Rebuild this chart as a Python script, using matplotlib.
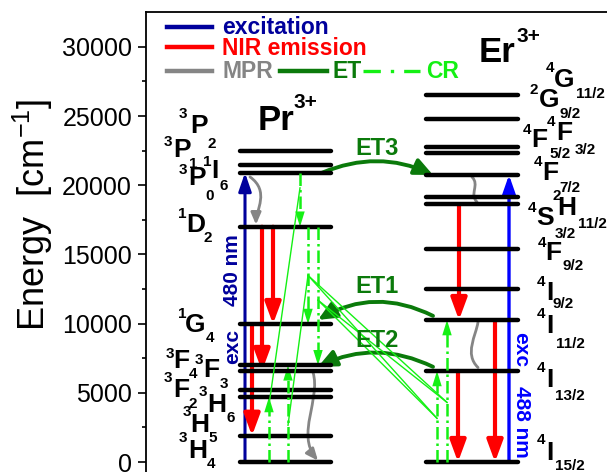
import numpy as np
import matplotlib
matplotlib.use('Agg')
from matplotlib import pyplot as plt
from matplotlib.patches import FancyArrowPatch
from matplotlib.path import Path
from matplotlib.lines import Line2D

plt.rcParams['font.family'] = 'Liberation Sans'
plt.rcParams['mathtext.fontset'] = 'custom'
plt.rcParams['mathtext.rm'] = 'Liberation Sans'
plt.rcParams['mathtext.it'] = 'Liberation Sans:italic'
plt.rcParams['mathtext.bf'] = 'Liberation Sans:bold'

# energy levels (cm^-1)
pr_names = ['3H4', '3H5', '3H6', '3F2', '3F3', '3F4', '1G4', '1D2', '3P0', '3P1', '3P2']
pr_energy = [0, 1900, 4700, 5200, 6580, 6990, 9970, 17000, 20900, 21450, 22500]

er_names = ['4I15/2', '4I13/2', '4I11/2', '4I9/2', '4F9/2', '4S3/2', '2H11/2',
            '4F7/2', '4F5/2', '4F3/2', '2G9/2', '4G11/2']
er_energy = [0, 6580, 10260, 12480, 15390, 18640, 19170, 20740, 22300, 22780, 24750, 26500]

PR = dict(zip(pr_names, pr_energy))
ER = dict(zip(er_names, er_energy))

# transitions (from, to)
pr_exc = [('3H4', '3P0')]
pr_nir = [('1D2', '3F3'), ('1D2', '1G4'), ('1G4', '3H5')]
pr_cr_down = [('3P0', '1D2'), ('1D2', '1G4'), ('1D2', '3F4')]
pr_cr_up = [('3H4', '3H6'), ('3H4', '3F4')]
er_exc = [('4I15/2', '4F7/2')]
er_nir = [('4S3/2', '4I11/2'), ('4I13/2', '4I15/2'), ('4I11/2', '4I15/2')]
er_cr_up = [('4I15/2', '4I13/2'), ('4I15/2', '4I11/2')]
et_names = ['ET1', 'ET2', 'ET3']
et_from = [('er', '4I11/2'), ('er', '4I13/2'), ('pr', '3P0')]
et_to = [('pr', '1G4'), ('pr', '3F3'), ('er', '4F7/2')]

yticks = [0, 5000, 10000, 15000, 20000, 25000, 30000]

NAVY = '#00009c'
BLUE = '#0000ff'
RED = '#ff0000'
GRAY = '#858585'
DGREEN = '#0b7a0b'
LGREEN = '#14f014'

W, H = 607, 472
fig = plt.figure(figsize=(W / 100, H / 100), dpi=100)
ax = fig.add_axes([146 / W, (H - 482.8) / H, (620 - 146) / W, 470.6 / H])
ax.set_xlim(146, 620)
ax.set_ylim(-1500, 32500)

def fxy(x, y):
    return x / W, 1 - y / H

cm_per_px = 34000 / 470.6
cm_per_pt = cm_per_px * 100 / 72

# axis styling
for s in ['bottom', 'right']:
    ax.spines[s].set_visible(False)
for s in ['left', 'top']:
    ax.spines[s].set_linewidth(1.3)
ax.set_xticks([])
ax.set_yticks(yticks)
ax.set_yticks(np.arange(2500, 32500, 5000), minor=True)
ax.tick_params(axis='y', which='major', length=6, width=1.2, labelsize=18, pad=4)
ax.tick_params(axis='y', which='minor', length=3, width=1.2)
fig.text(*fxy(33, 215), 'Energy  [cm$^{-1}$]', fontsize=26, rotation=90,
         ha='center', va='center')

# level lines
for e in pr_energy:
    ax.plot([240, 331], [e, e], color='k', lw=3.2, solid_capstyle='round')
for e in er_energy:
    ax.plot([426, 518], [e, e], color='k', lw=3.2, solid_capstyle='round')


def arrow(x, e0, e1, color, lw, hl, hw, dashed=False):
    style = f'-|>,head_length={hl},head_width={hw}'
    if dashed:
        sgn = np.sign(e1 - e0)
        ax.plot([x, x], [e0, e1 - sgn * hl * cm_per_pt * 0.6], color=color, lw=lw,
                ls=(0, (5, 1.6, 1, 1.6)))
        ax.add_patch(FancyArrowPatch((x, e0), (x, e1), arrowstyle=style, mutation_scale=1,
                                     lw=0, color=color, shrinkA=0, shrinkB=0))
    else:
        ax.add_patch(FancyArrowPatch((x, e0), (x, e1), arrowstyle=style, mutation_scale=1,
                                     lw=lw, color=color, shrinkA=0, shrinkB=0))


def wavy(x0, e0, x1, e1, b1, b2, head=True):
    # bezier wiggle between two levels
    d = e1 - e0
    verts = [(x0, e0), (x0 + b1, e0 + 0.3 * d), (x1 + b2, e0 + 0.7 * d), (x1, e1)]
    path = Path(verts, [Path.MOVETO, Path.CURVE4, Path.CURVE4, Path.CURVE4])
    style = '-|>,head_length=7,head_width=3' if head else '-'
    ax.add_patch(FancyArrowPatch(path=path, arrowstyle=style, mutation_scale=1,
                                 lw=2, color=GRAY))


def along(x, tr, levels, f):
    e0, e1 = levels[tr[0]], levels[tr[1]]
    return x, e0 + f * (e1 - e0)


# Pr3+ transitions
pr_exc_x = [245]
pr_nir_x = [262, 273, 252]
pr_cr_down_x = [300, 308, 318]
pr_cr_up_x = [269, 288]

for x, (a, b) in zip(pr_exc_x, pr_exc):
    arrow(x, PR[a], PR[b], NAVY, 2.2, 11, 3.8)
for x, (a, b) in zip(pr_nir_x, pr_nir):
    arrow(x, PR[a], PR[b], RED, 3, 13, 4.8)
for x, (a, b) in zip(pr_cr_down_x, pr_cr_down):
    arrow(x, PR[a], PR[b], LGREEN, 1.8, 11, 3.4, dashed=True)
for x, (a, b) in zip(pr_cr_up_x, pr_cr_up):
    arrow(x, PR[a], PR[b], LGREEN, 1.8, 11, 3.4, dashed=True)

wavy(250, PR['3P0'] - 300, 256, PR['1D2'] + 150, 20, 0)
wavy(313, PR['3F3'] - 100, 318, PR['3H4'] + 100, 8, -22)

# Er3+ transitions
er_exc_x = [509]
er_nir_x = [459, 458, 495]
er_cr_up_x = [437, 447]

for x, (a, b) in zip(er_exc_x, er_exc):
    arrow(x, ER[a], ER[b], BLUE, 2.4, 12, 4.2)
for x, (a, b) in zip(er_nir_x, er_nir):
    arrow(x, ER[a], ER[b], RED, 3, 13, 4.8)
for x, (a, b) in zip(er_cr_up_x, er_cr_up):
    arrow(x, ER[a], ER[b], LGREEN, 1.8, 11, 3.4, dashed=True)

wavy(472, ER['4F7/2'] - 150, 477, ER['4S3/2'] + 150, 8, -8, head=False)
wavy(478, ER['4I11/2'] - 150, 478, ER['4I13/2'] + 250, -2, -14, head=False)

# thin cross-relaxation links
links = [
    (along(pr_cr_down_x[0], pr_cr_down[0], PR, 0.28), along(pr_cr_up_x[0], pr_cr_up[0], PR, 0.88)),
    (along(pr_cr_down_x[1], pr_cr_down[1], PR, 0.5), along(pr_cr_up_x[1], pr_cr_up[1], PR, 0.38)),
    (along(pr_cr_down_x[1], pr_cr_down[1], PR, 0.5), along(er_cr_up_x[0], er_cr_up[0], ER, 0.48)),
    (along(pr_cr_down_x[1], pr_cr_down[1], PR, 0.5), along(er_cr_up_x[1], er_cr_up[1], ER, 0.42)),
    (along(pr_cr_down_x[2], pr_cr_down[2], PR, 0.53), along(er_cr_up_x[0], er_cr_up[0], ER, 0.48)),
    (along(pr_cr_down_x[2], pr_cr_down[2], PR, 0.53), along(er_cr_up_x[1], er_cr_up[1], ER, 0.42)),
]
for p, q in links:
    ax.plot([p[0], q[0]], [p[1], q[1]], color=LGREEN, lw=1.0)

# energy transfer arcs
side_x = {'pr': 320, 'er': 433}
side_lv = {'pr': PR, 'er': ER}
et_rad = [0.27, 0.24, -0.22]
et_lift = [300, 300, 0]
et_text_xy = [(377, 293), (377, 347), (377, 155)]
for name, (s0, l0), (s1, l1), rad, lift, (tx, ty) in zip(et_names, et_from, et_to, et_rad,
                                                       et_lift, et_text_xy):
    p0 = (side_x[s0] + (2 if s0 == 'pr' else 0), side_lv[s0][l0] + lift)
    p1 = (side_x[s1] - (2 if s1 == 'pr' else 0), side_lv[s1][l1] + lift)
    ax.add_patch(FancyArrowPatch(p0, p1, connectionstyle=f'arc3,rad={rad}',
                                 arrowstyle='-|>,head_length=11,head_width=5',
                                 mutation_scale=1, lw=2.8, color=DGREEN,
                                 shrinkA=0, shrinkB=0))
    fig.text(*fxy(tx, ty), name, fontsize=17, fontweight='bold', color=DGREEN,
             ha='center', va='baseline')

# excitation wavelength labels
fig.text(*fxy(233, 270), '480 nm', fontsize=15, fontweight='bold', color=NAVY,
         rotation=90, ha='center', va='center')
fig.text(*fxy(233, 347), 'exc', fontsize=15, fontweight='bold', color=NAVY,
         rotation=90, ha='center', va='center')
fig.text(*fxy(521, 350), 'exc', fontsize=15, fontweight='bold', color=BLUE,
         rotation=270, ha='center', va='center')
fig.text(*fxy(521, 422), '488 nm', fontsize=15, fontweight='bold', color=BLUE,
         rotation=270, ha='center', va='center')

# ion labels
fig.text(*fxy(276, 130), 'Pr', fontsize=25, fontweight='bold', ha='center', va='baseline')
fig.text(*fxy(305, 100), '3+', fontsize=15, fontweight='bold', ha='center', va='center_baseline')
fig.text(*fxy(497, 62), 'Er', fontsize=25, fontweight='bold', ha='center', va='baseline')
fig.text(*fxy(528, 35), '3+', fontsize=15, fontweight='bold', ha='center', va='center_baseline')

# term symbols: letter x, baseline, superscript, subscript
pr_terms = [
    ('P', 199, 133, '3', 183, 113, '2', 212, 142),
    ('P', 182, 157, '3', 168, 140, '1', 193, 162),
    ('I', 215, 178, '1', 207, 160, '6', 224, 185),
    ('P', 197, 185, '3', 183, 168, '0', 210, 195),
    ('D', 196, 232, '1', 182, 212, '2', 208, 237),
    ('G', 195, 332, '1', 182, 312, '4', 210, 337),
    ('F', 181, 368, '3', 170, 352, '4', 193, 373),
    ('F', 211, 377, '3', 199, 358, '3', 224, 382),
    ('F', 181, 397, '3', 168, 377, '2', 193, 403),
    ('H', 217, 412, '3', 203, 390, '6', 231, 417),
    ('H', 200, 432, '3', 187, 410, '5', 213, 437),
    ('H', 198, 458, '3', 183, 437, '4', 211, 463),
]
er_terms = [
    ('G', 564, 87, '4', 550, 67, '11/2', 590, 93),
    ('G', 549, 107, '2', 534, 88, '9/2', 570, 113),
    ('F', 539, 147, '4', 527, 128, '5/2', 560, 153),
    ('F', 564, 140, '4', 551, 120, '3/2', 585, 148),
    ('F', 550, 180, '4', 538, 160, '7/2', 570, 187),
    ('H', 567, 215, '2', 557, 194, '11/2', 592, 222),
    ('S', 545, 225, '4', 532, 207, '3/2', 565, 232),
    ('F', 553, 260, '4', 542, 242, '9/2', 573, 265),
    ('I', 550, 300, '4', 541, 280, '9/2', 563, 303),
    ('I', 550, 333, '4', 541, 312, '11/2', 570, 342),
    ('I', 550, 387, '4', 541, 367, '13/2', 570, 395),
    ('I', 550, 460, '4', 541, 438, '15/2', 570, 465),
]
for letter, x, base, sup, sx, sy, sub, bx, by in pr_terms + er_terms:
    fig.text(*fxy(x, base), letter, fontsize=19, fontweight='bold', ha='center', va='baseline')
    fig.text(*fxy(sx, sy), sup, fontsize=11, fontweight='bold', ha='center', va='center_baseline')
    fig.text(*fxy(bx, by), sub, fontsize=11, fontweight='bold', ha='center', va='center_baseline')

# legend
leg_rows = [(NAVY, 'excitation', 27.3, 34), (RED, 'NIR emission', 47.3, 55), (GRAY, 'MPR', 71.3, 78)]
for c, label, ly, base in leg_rows:
    fig.add_artist(Line2D([167 / W, 212 / W], [1 - ly / H] * 2, color=c, lw=3.2))
    fig.text(*fxy(222, base), label, fontsize=16.5, fontweight='bold', color=c, va='baseline')
fig.add_artist(Line2D([280 / W, 327 / W], [1 - 71.3 / H] * 2, color=DGREEN, lw=3.2))
fig.text(*fxy(332, 78), 'ET', fontsize=16.5, fontweight='bold', color=DGREEN, va='baseline')
fig.add_artist(Line2D([363 / W, 420 / W], [1 - 71.3 / H] * 2, color=LGREEN, lw=2.4,
                      ls=(0, (5.2, 3.0, 1, 3.0))))
fig.text(*fxy(426, 78), 'CR', fontsize=16.5, fontweight='bold', color=LGREEN, va='baseline')

fig.savefig('out.png', dpi=100)
